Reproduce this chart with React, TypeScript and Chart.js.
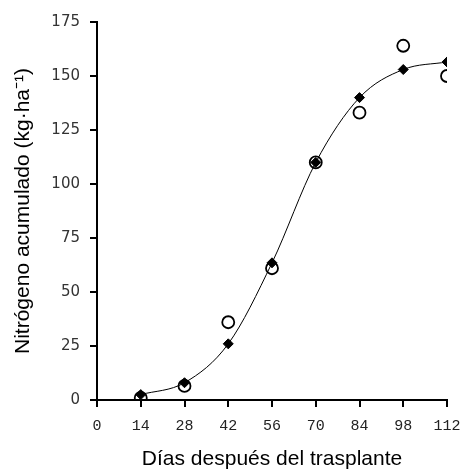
import React, { useEffect, useRef } from "react";
import { Chart, registerables } from "chart.js";

Chart.register(...registerables);

const days = [14, 28, 42, 56, 70, 84, 98, 112];
const modelN = [2.5, 8, 26, 63.5, 110, 140, 153, 156.5];
const observedN = [1, 6.5, 36, 61, 110, 133, 164, 150];
const xTicks = [0, 14, 28, 42, 56, 70, 84, 98, 112];
const yTicks = [0, 25, 50, 75, 100, 125, 150, 175];
const xTitle = "Días después del trasplante";
const yTitle = "Nitrógeno acumulado (kg·ha⁻¹)";

export default function App() {
  const ref = useRef<HTMLCanvasElement>(null);
  useEffect(() => {
    const canvas = ref.current;
    if (!canvas) return;
    const chart = new Chart(canvas, {
      type: "scatter",
      data: {
        datasets: [
          {
            label: "modelo",
            data: days.map((d, i) => ({ x: d, y: modelN[i] })),
            showLine: true,
            borderColor: "#000",
            borderWidth: 1,
            tension: 0.4,
            cubicInterpolationMode: "monotone",
            pointStyle: "rectRot",
            pointRadius: 5,
            pointBackgroundColor: "#000",
            pointBorderColor: "#000",
            pointBorderWidth: 1,
            order: 1,
          },
          {
            label: "observado",
            data: days.map((d, i) => ({ x: d, y: observedN[i] })),
            showLine: false,
            pointStyle: "circle",
            pointRadius: 6,
            pointBackgroundColor: "rgba(0,0,0,0)",
            pointBorderColor: "#000",
            pointBorderWidth: 1.8,
            order: 2,
          },
        ],
      },
      options: {
        responsive: false,
        animation: false,
        layout: { padding: { left: 0, right: 16, top: 22, bottom: 0 } },
        plugins: { legend: { display: false }, tooltip: { enabled: false } },
        scales: {
          x: {
            type: "linear",
            min: 0,
            max: 112,
            afterBuildTicks: (s: any) => {
              s.ticks = xTicks.map((v) => ({ value: v }));
            },
            afterFit: (s: any) => {
              s.height = 72;
              s.paddingLeft = 0;
              s.paddingRight = 0;
            },
            ticks: {
              padding: 10,
              color: "#222",
              font: { family: "Liberation Mono", size: 15 },
              maxRotation: 0,
              autoSkip: false,
            },
            grid: {
              drawOnChartArea: false,
              drawTicks: true,
              tickLength: 7,
              color: "#000",
              lineWidth: 2,
            },
            border: { display: true, color: "#000", width: 2 },
            title: {
              display: true,
              text: xTitle,
              color: "#000",
              font: { family: "Liberation Sans", size: 21 },
              padding: { top: 0, bottom: 0 },
            },
          },
          y: {
            type: "linear",
            min: 0,
            max: 175,
            afterBuildTicks: (s: any) => {
              s.ticks = yTicks.map((v) => ({ value: v }));
            },
            afterFit: (s: any) => {
              s.width = 97;
              s.paddingTop = 0;
              s.paddingBottom = 0;
            },
            ticks: {
              padding: 10,
              color: "#333",
              font: { family: "DejaVu Sans", size: 15 },
            },
            grid: {
              drawOnChartArea: false,
              drawTicks: true,
              tickLength: 7,
              color: "#000",
              lineWidth: 2,
            },
            border: { display: true, color: "#000", width: 2 },
            title: {
              display: true,
              text: yTitle,
              color: "#000",
              font: { family: "Liberation Sans", size: 21 },
              padding: { top: 11, bottom: 0 },
            },
          },
        },
      },
    } as any);
    return () => chart.destroy();
  }, []);
  return (
    <div style={{ position: "fixed", left: 0, top: 0, width: 463, height: 472, background: "#fff" }}>
      <canvas ref={ref} width={463} height={472} style={{ display: "block" }} />
    </div>
  );
}
